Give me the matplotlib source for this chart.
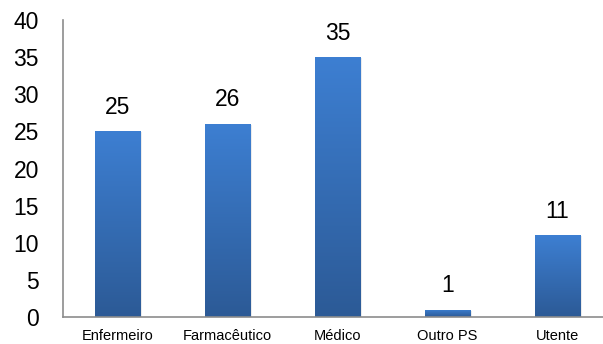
import matplotlib.pyplot as plt
import numpy as np
from matplotlib.colors import LinearSegmentedColormap

plt.rcParams['font.family'] = ['Liberation Sans', 'DejaVu Sans']

categorias = ['Enfermeiro', 'Farmacêutico', 'Médico', 'Outro PS', 'Utente']
valores = [25, 26, 35, 1, 11]
yticks = [0, 5, 10, 15, 20, 25, 30, 35, 40]

fig = plt.figure(figsize=(6.03, 3.44), dpi=100)
ax = fig.add_axes([62.5 / 603, (344 - 317) / 344, 550 / 603, 297 / 344])

x = np.arange(len(categorias))
largura = 0.41

# gradiente vertical das barras (claro em cima, escuro em baixo)
cmap = LinearSegmentedColormap.from_list('azul', ['#2c5a96', '#3d7fd2'])
grad = np.linspace(0, 1, 256).reshape(-1, 1)

barras = ax.bar(x, valores, width=largura, color='none', edgecolor='none', zorder=2)
for b, v in zip(barras, valores):
    x0 = b.get_x()
    # sombra leve
    ax.bar(x0 + largura / 2 + 0.02, v, width=largura, bottom=-0.15,
           color='#000000', alpha=0.08, zorder=1)
    im = ax.imshow(grad, cmap=cmap, aspect='auto', origin='lower',
                   extent=[x0, x0 + largura, 0, v], zorder=3)
    im.set_clip_path(b)
    ax.text(b.get_x() + largura / 2, v + 1.7, str(v), ha='center', va='bottom',
            fontsize=16.5, color='black')

ax.set_xlim(-0.5, 4.5)
ax.set_ylim(0, 40)
ax.set_yticks(yticks)
ax.set_yticklabels([str(t) for t in yticks], fontsize=16.5)
ax.set_xticks(x)
ax.set_xticklabels(categorias, fontsize=10.5)
ax.tick_params(axis='y', length=0, pad=17)
ax.tick_params(axis='x', length=0, pad=9)

for lado in ['top', 'right']:
    ax.spines[lado].set_visible(False)
ax.spines['left'].set_color('#8c8c8c')
ax.spines['bottom'].set_color('#8c8c8c')
ax.spines['left'].set_linewidth(1.2)
ax.spines['bottom'].set_linewidth(1.2)
ax.spines['left'].set_zorder(4)
ax.spines['bottom'].set_zorder(4)

fig.savefig('out.png', dpi=100)
